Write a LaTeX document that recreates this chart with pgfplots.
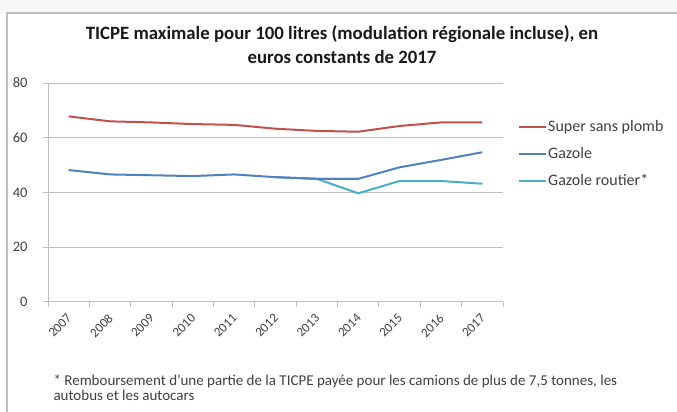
\documentclass[border=0pt]{standalone}
\usepackage{pgfplots}
\pgfplotsset{compat=1.18}
\usepackage{fontspec}
\setmainfont{Carlito}
\definecolor{cred}{HTML}{C0504D}
\definecolor{cblue}{HTML}{4F81BD}
\definecolor{ccyan}{HTML}{4BACC6}
\definecolor{cgrid}{RGB}{190,190,190}
\definecolor{ctext}{RGB}{64,64,64}
\begin{document}
\begin{tikzpicture}
\useasboundingbox (0pt,0pt) rectangle (677pt,412pt);
\fill[gray!6] (0pt,399pt) rectangle (677pt,412pt);
\draw[cgrid,line width=1.5pt] (7pt,0pt) -- (7pt,399pt) -- (677pt,399pt);
\node[font=\bfseries\fontsize{18.8}{24}\selectfont, align=center, text=black!90] at (342pt,367pt)
  {TICPE maximale pour 100 litres (modulation régionale incluse), en\\euros constants de 2017};
\begin{axis}[
  at={(48pt,110pt)}, anchor=south west,
  scale only axis, width=455pt, height=219pt,
  xmin=-0.5, xmax=10.5, ymin=0, ymax=80,
  ytick={0,20,40,60,80},
  xtick={-0.5,0.5,...,10.5}, xticklabels=\empty,
  extra x ticks={0,1,2,3,4,5,6,7,8,9,10},
  extra x tick labels={2007,2008,2009,2010,2011,2012,2013,2014,2015,2016,2017},
  extra x tick style={major tick length=0pt, xmajorgrids=false,
     tick label style={inner sep=0pt, xshift=-2.5pt, yshift=-11pt, rotate=45, anchor=north east}},
  yticklabel style={xshift=-12pt},
  ymajorgrids, grid style={cgrid, line width=1pt},
  axis x line*=bottom, axis y line*=left,
  axis line style={-, cgrid, line width=1pt},
  tick style={cgrid, line width=1pt},
  tick align=outside, major tick length=5pt,
  tick label style={font=\fontsize{14.5}{16}\selectfont, text=ctext},
  xticklabel style={font=\fontsize{13}{15}\selectfont},
  /pgf/number format/assume math mode=true,
  legend style={at={(1.033,0.835)}, anchor=north west, draw=none, fill=none, inner sep=0pt,
     font=\fontsize{16}{18}\selectfont, text=ctext, row sep=11pt, column sep=0pt,
     nodes={inner sep=1pt, text height=11pt, text depth=3pt}},
  legend cell align=left,
  legend image code/.code={\draw[#1] (0pt,0pt) -- (27pt,0pt);},
  every axis plot/.append style={line width=2pt},
]
\addplot[cred, mark=none] coordinates {(0,67.8) (1,66.0) (2,65.6) (3,65.0) (4,64.7) (5,63.3) (6,62.5) (7,62.2) (8,64.3) (9,65.6) (10,65.6)};
\addlegendentry{Super sans plomb}
\addplot[cblue, mark=none] coordinates {(0,48.2) (1,46.6) (2,46.3) (3,46.0) (4,46.6) (5,45.6) (6,45.0) (7,45.0) (8,49.2) (9,51.9) (10,54.7)};
\addlegendentry{Gazole}
\addplot[ccyan, mark=none] coordinates {(6,45.0) (7,39.7) (8,44.2) (9,44.2) (10,43.2)};
\addlegendentry{Gazole routier*}
\addplot[cblue, mark=none, forget plot] coordinates {(5,45.6) (6,45.0) (7,45.0)};
\end{axis}
\node[anchor=west, font=\fontsize{15}{15}\selectfont, text=ctext, align=left] at (50pt,24pt)
  {* Remboursement d'une partie de la TICPE payée pour les camions de plus de 7,5 tonnes, les\\autobus et les autocars};
\end{tikzpicture}
\end{document}
